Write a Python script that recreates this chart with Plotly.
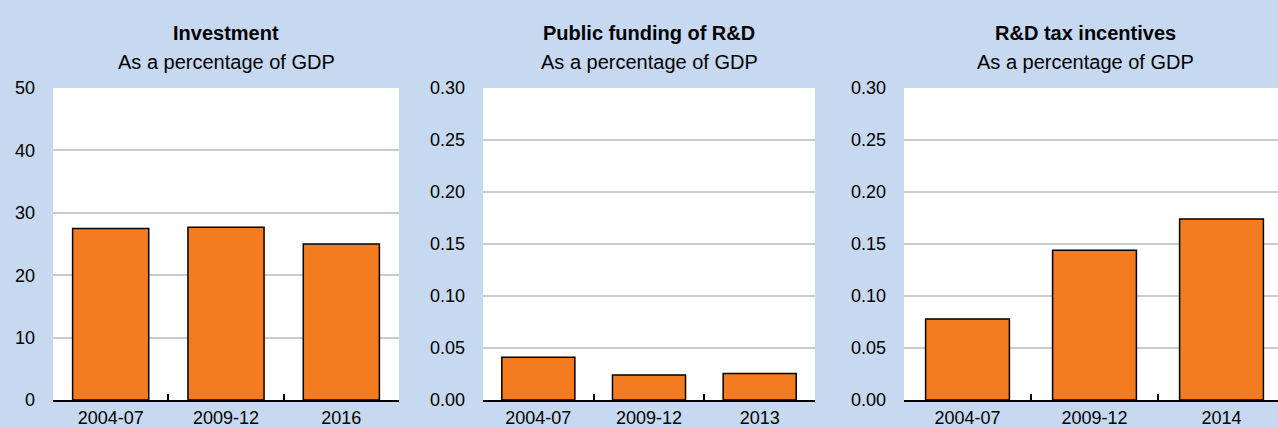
import plotly.graph_objects as go

W, H = 1278, 428

# Data
inv_cats = ["2004-07", "2009-12", "2016"]
inv_vals = [27.5, 27.7, 25.0]

pub_cats = ["2004-07", "2009-12", "2013"]
pub_vals = [0.041, 0.024, 0.0255]

tax_cats = ["2004-07", "2009-12", "2014"]
tax_vals = [0.078, 0.144, 0.174]

titles = ["Investment", "Public funding of R&D", "R&D tax incentives"]
subtitle = "As a percentage of GDP"

BG = "#C6D9F0"
ORANGE = "#F47B20"
GRID = "#CBCBCB"
FONT = "Liberation Sans, Arial, sans-serif"

# pixel layout of plot areas
x_px = [(53, 399), (483, 815), (904, 1278)]
y_top, y_bot = 88, 400
cat_w = [346 / 3, 332 / 3, 127]

fig = go.Figure()
series = [(inv_cats, inv_vals), (pub_cats, pub_vals), (tax_cats, tax_vals)]
yranges = [(0, 50, 10, "%d"), (0, 0.30, 0.05, ".2f"), (0, 0.30, 0.05, ".2f")]

for i, (cats, vals) in enumerate(series):
    n = "" if i == 0 else str(i + 1)
    fig.add_trace(go.Bar(
        x=cats, y=vals, xaxis="x" + n, yaxis="y" + n,
        marker=dict(color=ORANGE, line=dict(color="black", width=1.5)),
        showlegend=False, hoverinfo="skip",
    ))
    x0, x1 = x_px[i]
    span = (x1 - x0) / cat_w[i]
    ymin, ymax, dt, fmt = yranges[i]
    fig.update_layout(**{
        "xaxis" + n: dict(
            domain=[x0 / W, x1 / W], anchor="y" + n,
            type="category", range=[-0.5, -0.5 + span],
            showline=True, linecolor="black", linewidth=2,
            ticks="inside", tickson="boundaries", ticklen=6, tickwidth=1.5, tickcolor="black",
            showgrid=False, zeroline=False,
            ticklabelstandoff=0,
            tickfont=dict(family=FONT, size=18, color="black"),
            automargin=False, fixedrange=True,
        ),
        "yaxis" + n: dict(
            domain=[1 - y_bot / H, 1 - y_top / H], anchor="x" + n,
            range=[ymin, ymax], dtick=dt, tick0=0, tickformat=fmt,
            showgrid=True, gridcolor=GRID, gridwidth=1.5,
            zeroline=False, showline=False, ticks="",
            ticklabelstandoff=17,
            tickfont=dict(family=FONT, size=18, color="black"),
            automargin=False, fixedrange=True,
        ),
    })
    cx = (x0 + x1) / 2 / W
    if i == 2:
        cx = 1085 / W
    fig.add_annotation(x=cx, y=1 - 33 / H, xref="paper", yref="paper",
                       text="<b>" + titles[i].replace("&", "&amp;") + "</b>", showarrow=False,
                       xanchor="center", yanchor="middle",
                       font=dict(family=FONT, size=20, color="black"))
    fig.add_annotation(x=cx, y=1 - 62 / H, xref="paper", yref="paper",
                       text=subtitle, showarrow=False,
                       xanchor="center", yanchor="middle",
                       font=dict(family=FONT, size=20, color="black"))

fig.update_layout(
    width=W, height=H,
    margin=dict(l=0, r=0, t=0, b=0),
    paper_bgcolor=BG, plot_bgcolor="white",
    bargap=0.34,
    font=dict(family=FONT, color="black"),
)

fig.write_html("out.html", config={"displayModeBar": False},
               post_script="document.body.style.margin='0';document.body.style.overflow='hidden';")
